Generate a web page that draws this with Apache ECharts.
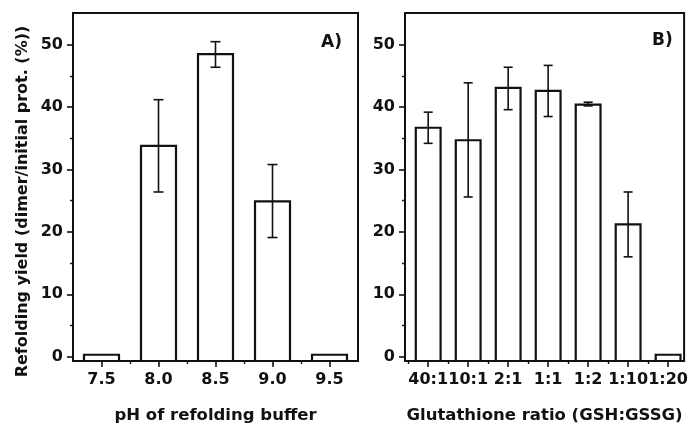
<!DOCTYPE html>
<html><head><meta charset="utf-8">
<script src="https://cdn.jsdelivr.net/npm/echarts@6/dist/echarts.min.js"></script>
<style>html,body{margin:0;padding:0;background:#fff}#c{width:691px;height:429px}</style>
</head><body><div id="c"></div>
<script>
// Panel A: pH of refolding buffer
const phLabels = ['7.5', '8.0', '8.5', '9.0', '9.5'];
const phYield = [0.3, 33.8, 48.5, 24.9, 0.3];
const phErrLow = [null, 26.4, 46.4, 19.1, null];
const phErrHigh = [null, 41.2, 50.5, 30.8, null];

// Panel B: glutathione ratio
const ratioLabels = ['40:1', '10:1', '2:1', '1:1', '1:2', '1:10', '1:20'];
const ratioYield = [36.7, 34.7, 43.1, 42.6, 40.4, 21.2, 0.3];
const ratioErrLow = [34.2, 25.6, 39.6, 38.5, 40.2, 16.0, null];
const ratioErrHigh = [39.2, 43.9, 46.4, 46.7, 40.8, 26.4, null];

const yTicks = [0, 10, 20, 30, 40, 50];
const yMinorTicks = [5, 15, 25, 35, 45];
const phMinorTicks = [7.75, 8.25, 8.75, 9.25];
const ratioMinorTicks = [0.5, 1.5, 2.5, 3.5, 4.5, 5.5, 6.5];

const Y_MIN = -0.7, Y_MAX = 55.1;
const FONT = 'DejaVu Sans';
const INK = '#111';

const phX = phLabels.map(Number);
const ratioX = ratioLabels.map((_, i) => i + 1);

function barRender(halfW) {
  return function (params, api) {
    const x = api.value(0), v = api.value(1);
    const p0 = api.coord([x - halfW, Y_MIN]);
    const p1 = api.coord([x + halfW, v]);
    return {
      type: 'rect',
      shape: { x: p0[0], y: p1[1], width: p1[0] - p0[0], height: p0[1] - p1[1] },
      style: { fill: '#fff', stroke: INK, lineWidth: 2.2 }
    };
  };
}
function errRender(capHalf) {
  return function (params, api) {
    const x = api.value(0);
    const lo = api.coord([x, api.value(1)]);
    const hi = api.coord([x, api.value(2)]);
    const st = { stroke: INK, lineWidth: 1.6 };
    return {
      type: 'group',
      children: [
        { type: 'line', shape: { x1: lo[0], y1: lo[1], x2: hi[0], y2: hi[1] }, style: st },
        { type: 'line', shape: { x1: lo[0] - capHalf, y1: lo[1], x2: lo[0] + capHalf, y2: lo[1] }, style: st },
        { type: 'line', shape: { x1: hi[0] - capHalf, y1: hi[1], x2: hi[0] + capHalf, y2: hi[1] }, style: st }
      ]
    };
  };
}

const labelStyle = { color: INK, fontFamily: FONT, fontWeight: 'bold', fontSize: 16 };
const nameStyle = { color: INK, fontFamily: FONT, fontWeight: 'bold', fontSize: 16.5 };

function yMajor(gridIndex, withName) {
  const a = {
    type: 'value', gridIndex, position: 'left', min: Y_MIN, max: Y_MAX,
    axisLine: { show: true, onZero: false, lineStyle: { color: INK, width: 2 } },
    splitLine: { show: false },
    axisTick: { show: true, inside: false, length: 6, customValues: yTicks, lineStyle: { color: INK, width: 1.6 } },
    axisLabel: { show: true, margin: 10, customValues: yTicks, ...labelStyle }
  };
  if (withName) {
    a.name = 'Refolding yield (dimer/initial prot. (%))';
    a.nameLocation = 'middle';
    a.nameGap = 42;
    a.nameTextStyle = { ...labelStyle, fontSize: 16, padding: [0, 29, 0, 0] };
  }
  return a;
}
function yMinor(gridIndex) {
  return {
    type: 'value', gridIndex, position: 'left', offset: 0, min: Y_MIN, max: Y_MAX,
    axisLine: { show: false, onZero: false }, splitLine: { show: false },
    axisTick: { show: true, inside: false, length: 3, customValues: yMinorTicks, lineStyle: { color: INK, width: 1.4 } },
    axisLabel: { show: false }
  };
}
function xMinor(gridIndex, min, max, ticks) {
  return {
    type: 'value', gridIndex, position: 'bottom', offset: 0, min, max,
    axisLine: { show: false, onZero: false }, splitLine: { show: false },
    axisTick: { show: true, length: 3, customValues: ticks, lineStyle: { color: INK, width: 1.4 } },
    axisLabel: { show: false }
  };
}

const option = {
  animation: false,
  backgroundColor: '#fff',
  title: [
    { text: 'A)', left: 321, top: 34, padding: 0, textStyle: { ...labelStyle, fontSize: 17 } },
    { text: 'B)', left: 652, top: 32, padding: 0, textStyle: { ...labelStyle, fontSize: 17 } }
  ],
  grid: [
    { left: 73, top: 13, width: 285, height: 349, show: true, borderColor: INK, borderWidth: 2, backgroundColor: 'transparent' },
    { left: 405, top: 13, width: 281, height: 349, show: true, borderColor: INK, borderWidth: 2, backgroundColor: 'transparent' }
  ],
  xAxis: [
    {
      type: 'value', gridIndex: 0, position: 'bottom', min: 7.25, max: 9.75,
      name: 'pH of refolding buffer', nameLocation: 'middle', nameGap: 46, nameTextStyle: nameStyle,
      axisLine: { show: true, onZero: false, lineStyle: { color: INK, width: 2 } }, splitLine: { show: false },
      axisTick: { show: true, length: 6, customValues: phX, lineStyle: { color: INK, width: 1.6 } },
      axisLabel: { margin: 11, customValues: phX, formatter: v => Number(v).toFixed(1), ...labelStyle }
    },
    xMinor(0, 7.25, 9.75, phMinorTicks),
    {
      type: 'value', gridIndex: 1, position: 'bottom', min: 0.42, max: 7.4,
      name: 'Glutathione ratio (GSH:GSSG)', nameLocation: 'middle', nameGap: 46, nameTextStyle: nameStyle,
      axisLine: { show: true, onZero: false, lineStyle: { color: INK, width: 2 } }, splitLine: { show: false },
      axisTick: { show: true, length: 6, customValues: ratioX, lineStyle: { color: INK, width: 1.6 } },
      axisLabel: { margin: 11, customValues: ratioX, formatter: v => ratioLabels[Math.round(v) - 1] || '', ...labelStyle }
    },
    xMinor(1, 0.42, 7.4, ratioMinorTicks)
  ],
  yAxis: [yMajor(0, true), yMinor(0), yMajor(1, false), yMinor(1)],
  series: [
    {
      type: 'custom', xAxisIndex: 0, yAxisIndex: 0, renderItem: barRender(0.1535),
      data: phX.map((x, i) => [x, phYield[i]])
    },
    {
      type: 'custom', xAxisIndex: 0, yAxisIndex: 0, renderItem: errRender(5),
      data: phX.map((x, i) => [x, phErrLow[i], phErrHigh[i]]).filter(d => d[1] !== null)
    },
    {
      type: 'custom', xAxisIndex: 2, yAxisIndex: 2, renderItem: barRender(0.31),
      data: ratioX.map((x, i) => [x, ratioYield[i]])
    },
    {
      type: 'custom', xAxisIndex: 2, yAxisIndex: 2, renderItem: errRender(4.5),
      data: ratioX.map((x, i) => [x, ratioErrLow[i], ratioErrHigh[i]]).filter(d => d[1] !== null)
    }
  ]
};
echarts.init(document.getElementById('c')).setOption(option);
</script>
</body></html>
